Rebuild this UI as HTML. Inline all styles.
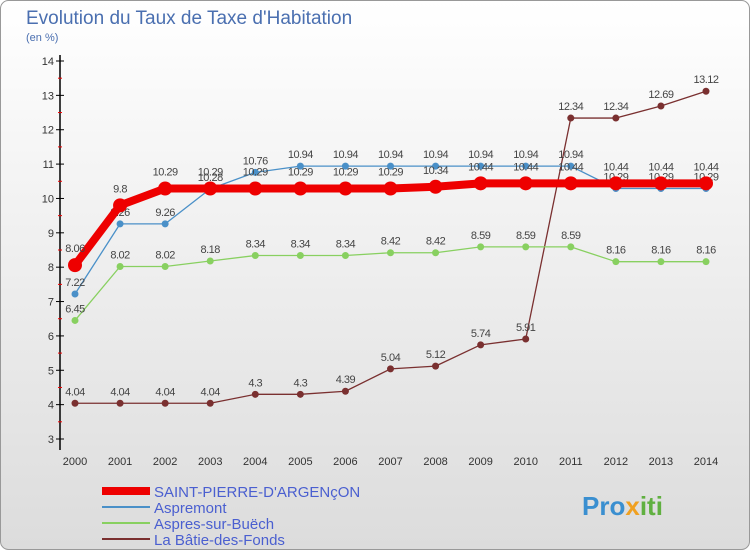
<!DOCTYPE html>
<html><head><meta charset="utf-8"><style>
body{margin:0;width:750px;height:550px;overflow:hidden;font-family:"Liberation Sans",sans-serif;}
</style></head><body>
<svg id="chart" width="750" height="550" xmlns="http://www.w3.org/2000/svg">
<defs><linearGradient id="bg" x1="0" y1="0" x2="0" y2="1"><stop offset="0" stop-color="#ffffff"/><stop offset="1" stop-color="#dcdcdc"/></linearGradient></defs>
<rect x="0.5" y="0.5" width="749" height="549" rx="8" fill="url(#bg)" stroke="#999"/>
<text x="26" y="24" font-size="19" fill="#4a6fb0">Evolution du Taux de Taxe d'Habitation</text>
<text x="26" y="41" font-size="11" fill="#4a6fb0">(en %)</text>
<line x1="60" y1="55" x2="60" y2="450" stroke="#000" stroke-width="1.5"/>
<g id="ticks"></g><g id="series"></g>
<g>
<line x1="102" y1="491" x2="150" y2="491" stroke="#e00" stroke-width="8"/><text x="154" y="497" font-size="15" fill="#4a5fd0">SAINT-PIERRE-D'ARGENçON</text>
<line x1="102" y1="507" x2="150" y2="507" stroke="#4a90c8" stroke-width="2"/><text x="154" y="513" font-size="15" fill="#4a5fd0">Aspremont</text>
<line x1="102" y1="523" x2="150" y2="523" stroke="#88d060" stroke-width="2"/><text x="154" y="529" font-size="15" fill="#4a5fd0">Aspres-sur-Buëch</text>
<line x1="102" y1="539" x2="150" y2="539" stroke="#7a3030" stroke-width="2"/><text x="154" y="545" font-size="15" fill="#4a5fd0">La Bâtie-des-Fonds</text>
</g>
<text x="582" y="515" font-size="26" font-weight="bold" fill="#3a8fd0">Pro<tspan fill="#f0a020">x</tspan><tspan fill="#60b040">iti</tspan></text>
</svg>
<script>
const years=[2000,2001,2002,2003,2004,2005,2006,2007,2008,2009,2010,2011,2012,2013,2014];
const yTicks=[3,4,5,6,7,8,9,10,11,12,13,14];
const saintPierre=[8.06,9.8,10.29,10.29,10.29,10.29,10.29,10.29,10.34,10.44,10.44,10.44,10.44,10.44,10.44];
const aspremont=[7.22,9.26,9.26,10.28,10.76,10.94,10.94,10.94,10.94,10.94,10.94,10.94,10.29,10.29,10.29];
const aspres=[6.45,8.02,8.02,8.18,8.34,8.34,8.34,8.42,8.42,8.59,8.59,8.59,8.16,8.16,8.16];
const batie=[4.04,4.04,4.04,4.04,4.3,4.3,4.39,5.04,5.12,5.74,5.91,12.34,12.34,12.69,13.12];
const NS="http://www.w3.org/2000/svg";
const xs=i=>75+i*(706-75)/14;
const ys=v=>439-(v-3)*(439-61)/11;
function mk(t,a,p){const e=document.createElementNS(NS,t);for(const k in a)e.setAttribute(k,a[k]);p.appendChild(e);return e;}
const tk=document.getElementById('ticks');
yTicks.forEach(v=>{
 const l=mk('line',{x1:56,x2:64,y1:ys(v),y2:ys(v),stroke:'#000'},tk);
 
 
 const t=mk('text',{x:54,y:ys(v)+4,'font-size':11,'text-anchor':'end',fill:'#333'},tk);t.textContent=v;
 
 
 if(v<14){const m=mk('line',{x1:58,x2:62,y1:ys(v+0.5),y2:ys(v+0.5),stroke:'#e00'},tk);
 
 }
});
years.forEach((y,i)=>{const t=mk('text',{x:xs(i),y:465,'font-size':11,'text-anchor':'middle',fill:'#333'},tk);t.textContent=y;
 
 });
const sg=document.getElementById('series');
function draw(vals,color,w,r,name,dy){
 const g=mk('g',{},sg);
 
 
 mk('polyline',{points:vals.map((v,i)=>xs(i)+','+ys(v)).join(' '),fill:'none',stroke:color,'stroke-width':w,'stroke-linejoin':'round'},g);
 vals.forEach((v,i)=>{const c=mk('circle',{cx:xs(i),cy:ys(v),r:r,fill:color},g);
  
  
  const t=mk('text',{x:xs(i),y:ys(v)-dy,'font-size':11,'text-anchor':'middle',fill:'#444','letter-spacing':'-0.5'},g);t.textContent=v;
  
  });
}
draw(batie,'#7a3030',1.3,3.5,'series-batie',8);
draw(aspres,'#88d060',1.3,3.5,'series-aspres',8);
draw(aspremont,'#4a90c8',1.3,3.5,'series-aspremont',8);
draw(saintPierre,'#e00',8,7,'series-saint-pierre',13);
</script>
</body></html>
